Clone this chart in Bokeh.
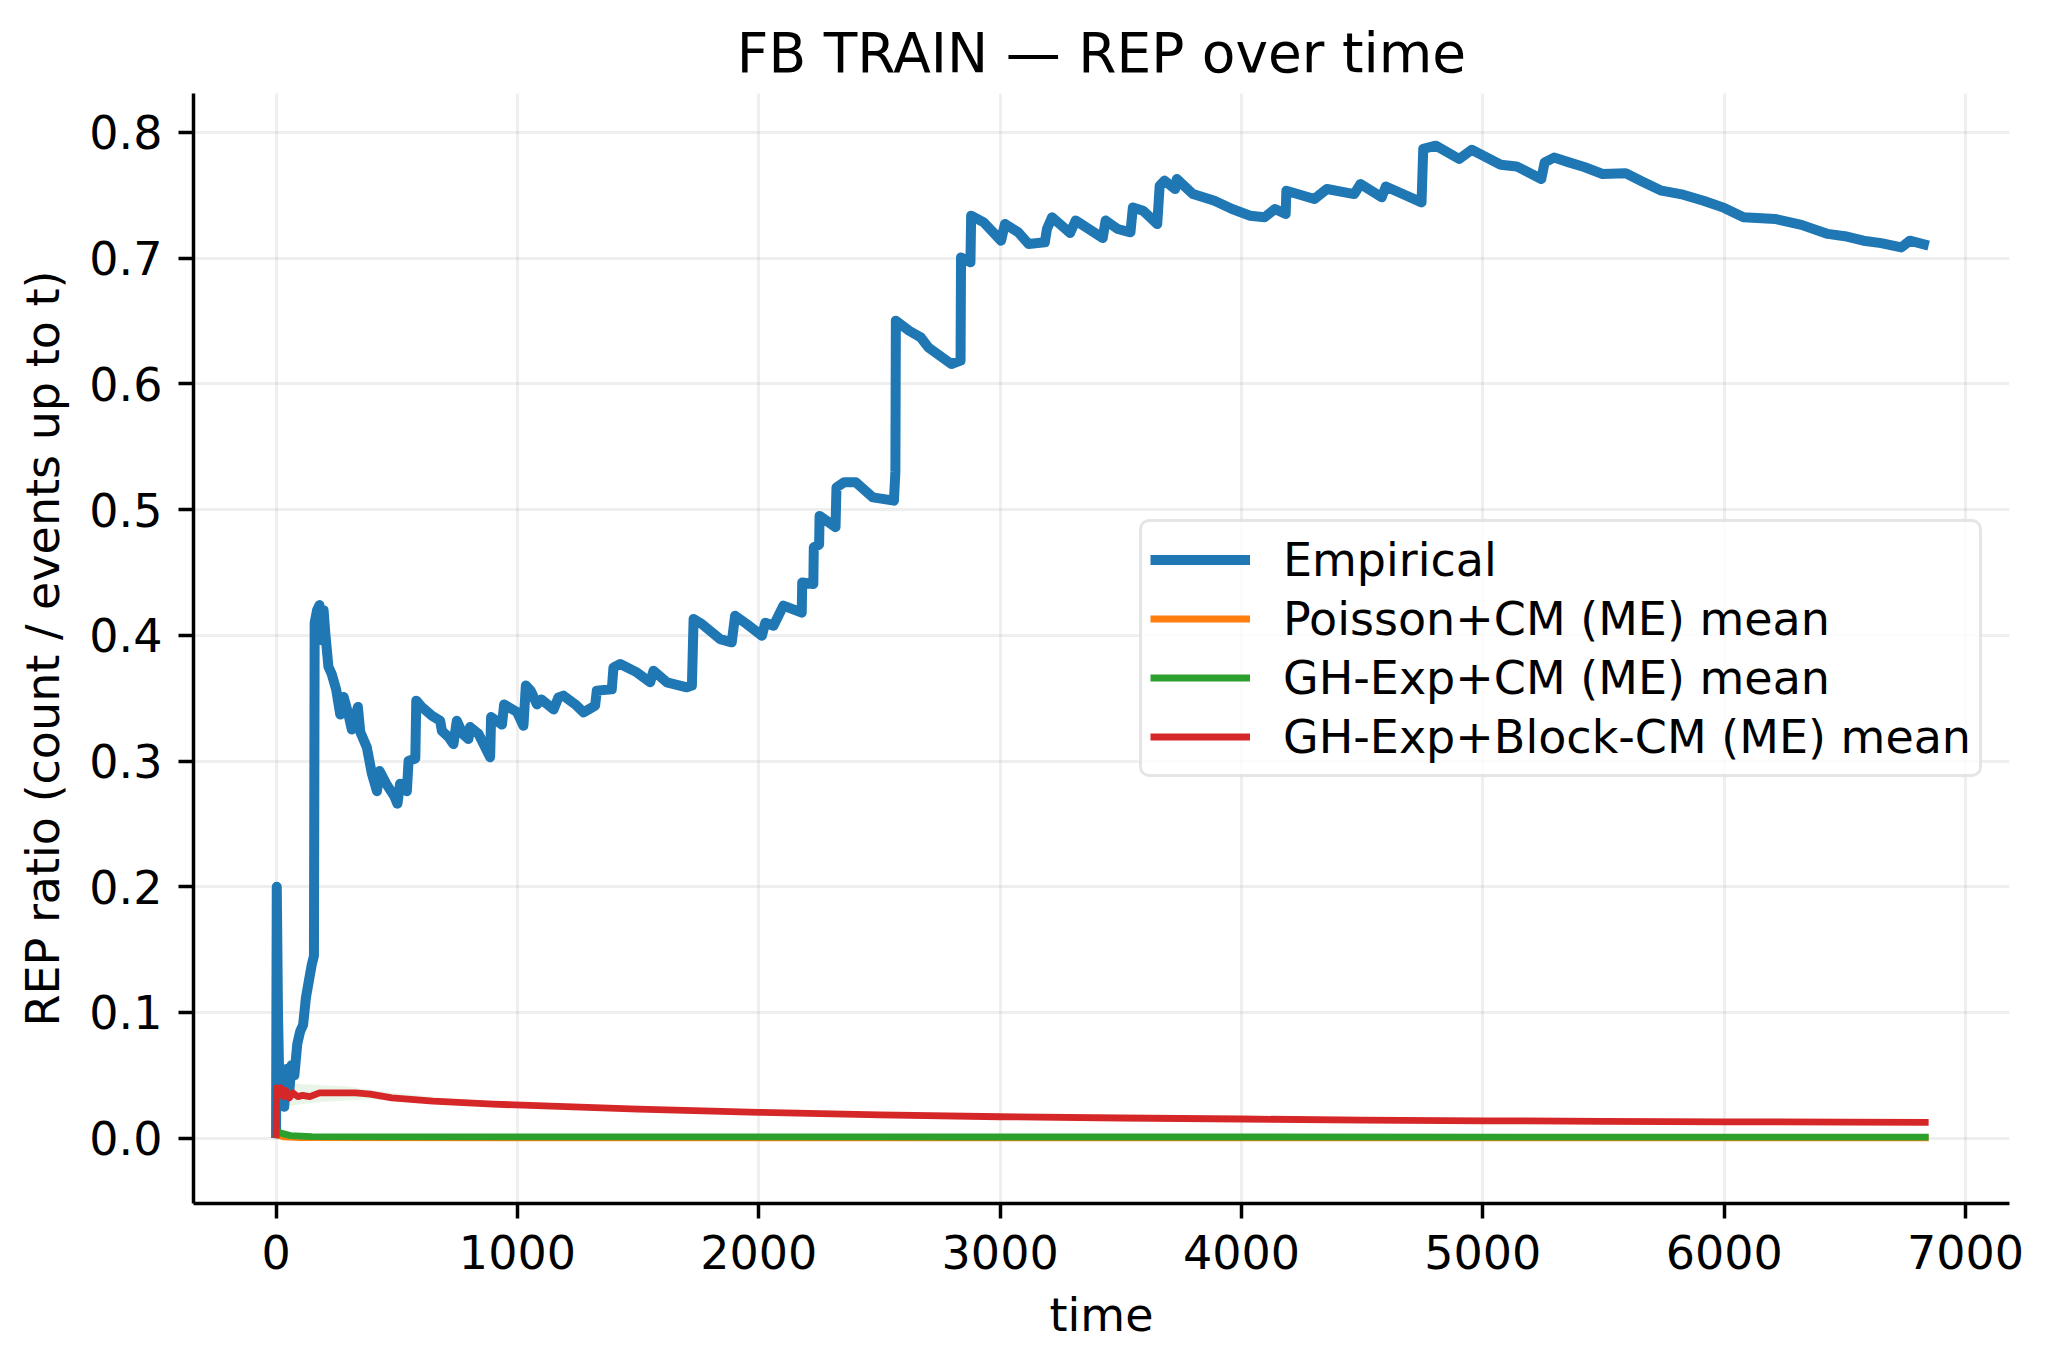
from bokeh.plotting import figure
from bokeh.models import (Range1d, FixedTicker, PrintfTickFormatter, Legend, LegendItem)
from bokeh.embed import file_html
from bokeh.resources import INLINE

# ---------------- data ----------------
emp_t = [0, 3, 8, 13, 19, 26, 34, 44, 54, 64, 76, 88, 100, 112, 124, 136, 148, 157,
         160, 170, 180, 190, 197, 204, 217, 231, 249, 266, 280, 300, 314, 339, 349, 376,
         397, 418, 429, 456, 490, 503, 514, 542, 549, 577, 581, 604, 646, 680, 687, 715,
         735, 749, 774, 797, 804, 839, 887, 891, 936, 945, 998, 1025, 1035, 1055, 1081,
         1099, 1150, 1170, 1191, 1240, 1274, 1322, 1329, 1391, 1398, 1426, 1495, 1550,
         1564, 1619, 1702, 1723, 1730, 1764, 1840, 1888, 1902, 1950, 2013, 2027, 2061,
         2102, 2178, 2180, 2226, 2228, 2250, 2252, 2318, 2322, 2354, 2402, 2473, 2560,
         2566, 2568, 2623, 2671, 2703, 2798, 2836, 2838, 2877, 2880, 2932, 3004, 3020,
         3075, 3118, 3185, 3194, 3215, 3290, 3313, 3425, 3437, 3487, 3540, 3550, 3592,
         3651, 3661, 3681, 3725, 3732, 3799, 3888, 3961, 4036, 4095, 4139, 4183, 4186,
         4302, 4354, 4467, 4493, 4581, 4598, 4746, 4753, 4805, 4902, 4954, 5074, 5140,
         5242, 5256, 5295, 5357, 5420, 5496, 5592, 5660, 5740, 5830, 5914, 6000, 6080,
         6211, 6320, 6429, 6500, 6577, 6650, 6734, 6769, 6847]
emp_v = [0.0, 0.20, 0.10, 0.05, 0.03, 0.05, 0.025, 0.055, 0.035, 0.058, 0.05, 0.075,
         0.085, 0.09, 0.112, 0.125, 0.138, 0.145,
         0.41, 0.42, 0.424, 0.396, 0.42, 0.402, 0.375, 0.369, 0.357, 0.337, 0.351, 0.337,
         0.325, 0.343, 0.323, 0.311, 0.290, 0.276, 0.292, 0.282, 0.272, 0.266, 0.282,
         0.276, 0.300, 0.302, 0.348, 0.343, 0.336, 0.332, 0.324, 0.319, 0.3135, 0.332,
         0.3215, 0.3175, 0.327, 0.3215, 0.303, 0.335, 0.329, 0.345, 0.339, 0.328, 0.360,
         0.356, 0.345, 0.349, 0.341, 0.3506, 0.352, 0.345, 0.3387, 0.344, 0.356, 0.357,
         0.3745, 0.3772, 0.3705, 0.3626, 0.3718, 0.3626, 0.3586, 0.360, 0.413, 0.409,
         0.397, 0.3944, 0.4156, 0.409, 0.3997, 0.410, 0.4076, 0.4236, 0.418, 0.442,
         0.4408, 0.47, 0.472, 0.495, 0.486, 0.5177, 0.5217, 0.5217, 0.5097, 0.5071,
         0.53, 0.6503, 0.6423, 0.637, 0.629, 0.6158, 0.6185, 0.7006, 0.6967, 0.7338,
         0.7285, 0.7139, 0.7272, 0.7206, 0.7113, 0.7126, 0.7232, 0.7325, 0.7200, 0.7300,
         0.716, 0.730, 0.7232, 0.7206, 0.7404, 0.7378, 0.7272, 0.7577, 0.7617, 0.755,
         0.763, 0.751, 0.7457, 0.7391, 0.7338, 0.7325, 0.7391, 0.7351, 0.7537, 0.7471,
         0.755, 0.7510, 0.759, 0.7484, 0.7570, 0.7444, 0.7869, 0.7895, 0.7789, 0.7862,
         0.7743, 0.7730, 0.763, 0.7762, 0.7800, 0.7762, 0.7725, 0.767, 0.7675, 0.7610,
         0.7537, 0.7505, 0.7457, 0.7400, 0.7325, 0.7312, 0.7265, 0.7193, 0.7175, 0.7139,
         0.7120, 0.7086, 0.7139, 0.7100]

pois_t = [0, 5, 30, 100, 1000, 6847]
pois_v = [0.0, 0.003, 0.001, 0.0004, 0.0003, 0.0002]

ghcm_t = [0, 2, 20, 60, 150, 500, 6847]
ghcm_v = [0.0, 0.006, 0.004, 0.002, 0.0012, 0.001, 0.0008]

block_t = [0, 2, 10, 20, 30, 40, 55, 70, 90, 110, 140, 180, 250, 330, 390, 480, 650,
           900, 1200, 1500, 2000, 2500, 3000, 3500, 4000, 4500, 5000, 5500, 6000, 6500,
           6847]
block_v = [0.0, 0.040, 0.035, 0.040, 0.033, 0.038, 0.032, 0.036, 0.033, 0.034, 0.033,
           0.036, 0.036, 0.036, 0.035, 0.032, 0.0295, 0.027, 0.025, 0.023, 0.0205,
           0.0185, 0.017, 0.016, 0.0152, 0.0144, 0.0138, 0.0134, 0.0130, 0.0127, 0.0125]

band_t = [40, 100, 200, 300, 400, 500, 600, 800]
band_hi = [0.045, 0.043, 0.042, 0.041, 0.038, 0.036, 0.034, 0.030]
band_lo = [0.025, 0.027, 0.029, 0.030, 0.031, 0.030, 0.029, 0.027]

x_ticks = [0, 1000, 2000, 3000, 4000, 5000, 6000, 7000]
y_ticks = [0.0, 0.1, 0.2, 0.3, 0.4, 0.5, 0.6, 0.7, 0.8]

labels = ["Empirical", "Poisson+CM (ME) mean", "GH-Exp+CM (ME) mean",
          "GH-Exp+Block-CM (ME) mean"]
colors = ["#1f77b4", "#ff7f0e", "#2ca02c", "#d62728"]

FONT = "DejaVu Sans"

p = figure(width=2037, height=1355, output_backend="svg", toolbar_location=None,
           x_range=Range1d(-342, 7182), y_range=Range1d(-0.052, 0.831),
           min_border_left=193, min_border_top=93, min_border_right=28,
           min_border_bottom=152)
p.background_fill_color = "white"
p.border_fill_color = "white"
p.outline_line_color = None

p.title.text = "FB TRAIN \u2014 REP over time"
p.title.align = "center"
p.title.text_font = FONT
p.title.text_font_size = "55px"
p.title.text_font_style = "normal"
p.title.text_color = "black"
p.title.standoff = 18

for ax in (p.xaxis[0], p.yaxis[0]):
    ax.axis_line_width = 3.5
    ax.axis_line_color = "black"
    ax.major_tick_line_width = 3.5
    ax.major_tick_line_color = "black"
    ax.major_tick_out = 15
    ax.major_tick_in = 0
    ax.minor_tick_line_color = None
    ax.major_label_standoff = 16
    ax.major_label_text_font = FONT
    ax.major_label_text_font_size = "46px"
    ax.major_label_text_color = "black"
    ax.axis_label_text_font = FONT
    ax.axis_label_text_font_size = "46px"
    ax.axis_label_text_font_style = "normal"
    ax.axis_label_text_color = "black"
    ax.axis_label_standoff = 16

p.xaxis[0].ticker = FixedTicker(ticks=x_ticks)
p.yaxis[0].ticker = FixedTicker(ticks=y_ticks)
p.yaxis[0].formatter = PrintfTickFormatter(format="%.1f")
p.xaxis[0].axis_label = "time"
p.yaxis[0].axis_label = "REP ratio (count / events up to t)"

for g in (p.xgrid[0], p.ygrid[0]):
    g.grid_line_color = "#b0b0b0"
    g.grid_line_alpha = 0.2
    g.grid_line_width = 3

# light band
p.varea(x=band_t, y1=band_lo, y2=band_hi, fill_color=colors[2], fill_alpha=0.1)

r_emp = p.line(emp_t, emp_v, line_color=colors[0], line_width=10, line_join="round")
r_pois = p.line(pois_t, pois_v, line_color=colors[1], line_width=6.8, line_join="round")
r_gh = p.line(ghcm_t, ghcm_v, line_color=colors[2], line_width=6.8, line_join="round")
r_blk = p.line(block_t, block_v, line_color=colors[3], line_width=6.8, line_join="round")

legend = Legend(items=[LegendItem(label=labels[0], renderers=[r_emp]),
                       LegendItem(label=labels[1], renderers=[r_pois]),
                       LegendItem(label=labels[2], renderers=[r_gh]),
                       LegendItem(label=labels[3], renderers=[r_blk])],
                location=(946, 426))
legend.label_text_font = FONT
legend.label_text_font_size = "46px"
legend.label_text_color = "black"
legend.glyph_width = 100
legend.glyph_height = 59
legend.label_height = 59
legend.label_standoff = 33
legend.spacing = 0
legend.padding = 8
legend.margin = 0
legend.border_line_color = "#cccccc"
legend.border_line_width = 3.5
legend.background_fill_color = "white"
legend.background_fill_alpha = 0.8
if "border_radius" in Legend.properties():
    legend.border_radius = 10
p.add_layout(legend, "center")

open("out.html", "w").write(file_html(p, INLINE))
